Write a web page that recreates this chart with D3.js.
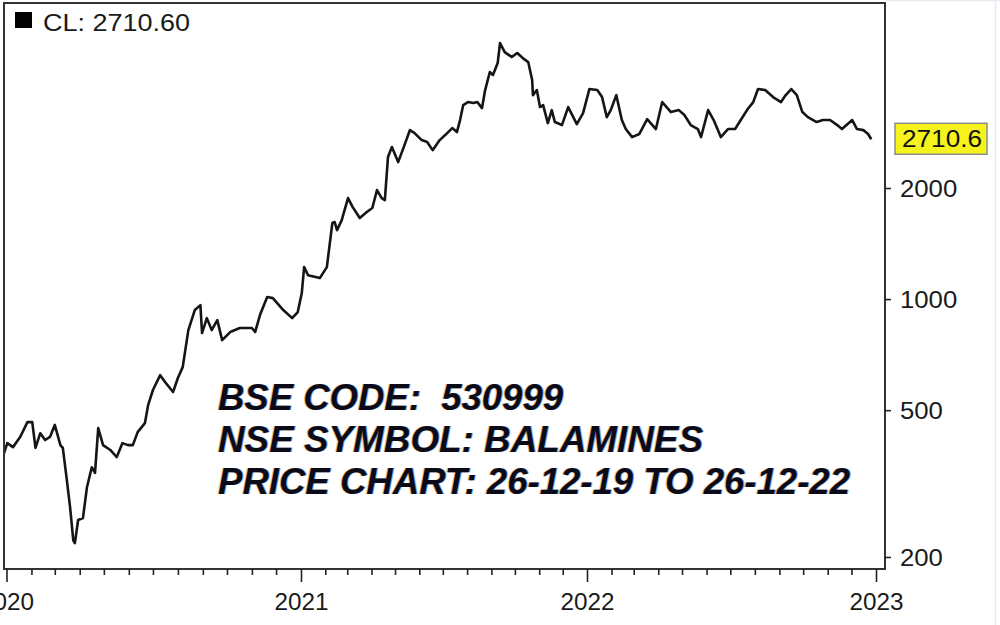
<!DOCTYPE html>
<html>
<head>
<meta charset="utf-8">
<script src="https://cdn.jsdelivr.net/npm/d3@7"></script>
<style>
  html, body { margin: 0; padding: 0; background: #ffffff; }
  svg { display: block; }
  text { font-family: "Liberation Sans", Arial, sans-serif; }
  .info { white-space: pre; }
</style>
</head>
<body>
<svg id="chart" width="1000" height="625"></svg>
<script>
// ---- data ----
const dates = [
 "2019-360","2020-002","2020-009","2020-018","2020-027","2020-033","2020-037","2020-043","2020-049","2020-055",
 "2020-061","2020-068","2020-071","2020-076","2020-080","2020-084","2020-086","2020-090","2020-096","2020-101",
 "2020-107","2020-111","2020-115","2020-121","2020-130","2020-138","2020-145","2020-152","2020-158","2020-164",
 "2020-173","2020-177","2020-183","2020-192","2020-198","2020-208","2020-214","2020-220","2020-227","2020-235",
 "2020-242","2020-244","2020-250","2020-256","2020-263","2020-269","2020-279","2020-291","2020-306","2020-310",
 "2020-316","2020-325","2020-332","2020-345","2020-356","2020-363",
 "2021-002","2021-005","2021-010","2021-025","2021-034","2021-041","2021-044","2021-047","2021-053","2021-061",
 "2021-067","2021-076","2021-085","2021-092","2021-098","2021-104","2021-108","2021-112","2021-117","2021-125",
 "2021-134","2021-140","2021-146","2021-155","2021-162","2021-169","2021-178","2021-185","2021-194","2021-200",
 "2021-204","2021-208","2021-214","2021-221","2021-226","2021-232","2021-236","2021-242","2021-246","2021-252",
 "2021-255","2021-261","2021-270","2021-277","2021-284","2021-291","2021-296","2021-297","2021-302","2021-306",
 "2021-310","2021-316","2021-321","2021-325","2021-334","2021-342","2021-353","2021-361",
 "2022-004","2022-014","2022-020","2022-026","2022-031","2022-038","2022-045","2022-050","2022-058","2022-067",
 "2022-077","2022-088","2022-096","2022-107","2022-117","2022-124","2022-132","2022-141","2022-145","2022-154",
 "2022-161","2022-170","2022-179","2022-188","2022-196","2022-204","2022-211","2022-217","2022-226","2022-236",
 "2022-246","2022-252","2022-259","2022-266","2022-273","2022-280","2022-291","2022-299","2022-308","2022-317",
 "2022-323","2022-336","2022-342","2022-350","2022-356","2022-360"
];
const closes = [
 366,407,397,423,464,464,395,433,415,423,
 456,402,395,323,273,222,218,252,255,309,
 350,338,447,402,390,373,407,402,402,436,
 461,516,567,622,596,560,611,654,824,934,
 963,809,888,824,877,774,814,835,835,814,
 905,1013,1006,934,888,922,
 1038,1221,1161,1140,1221,1607,1617,1538,1637,1878,
 1775,1658,1721,1765,1974,1878,1855,2426,2582,2351,
 2647,2871,2818,2697,2664,2533,2697,2783,2907,2835,
 3056,3356,3419,3398,3419,3293,3685,4124,4046,4361,
 4941,4671,4528,4642,4499,4388,3923,3571,3685,3314,
 3356,2999,3250,3018,2962,3314,2980,3192,
 3708,3685,3527,3113,3252,3571,3056,2889,2748,2801,
 3075,2889,3419,3212,3252,3153,2962,2889,2748,3252,
 3056,2748,2889,2889,3075,3273,3419,3708,3685,3527,
 3419,3571,3708,3571,3212,3113,3018,3056,3056,2962,
 2889,3056,2889,2870,2801,2710.6
];
const yTickValues = [200, 500, 1000, 2000];
const yearLabels = ["2020", "2021", "2022", "2023"];
const legendLabel = "CL: 2710.60";
const lastLabel = "2710.6";
const infoLines = ["BSE CODE:  530999", "NSE SYMBOL: BALAMINES", "PRICE CHART: 26-12-19 TO 26-12-22"];

// ---- setup ----
const parse = d3.timeParse("%Y-%j");
const data = dates.map((d, i) => ({ date: parse(d), close: closes[i] }));
const svg = d3.select("#chart");

const frame = { left: 4, top: 3, right: 885, bottom: 569 };
const yearDates = yearLabels.map(y => new Date(+y, 0, 1));

const x = d3.scaleTime()
  .domain(yearDates)
  .range([6.5, 301, 587, 876]);
const y = d3.scaleLog()
  .domain([200, 2000])
  .range([557, 188]);

// faint outer edges
svg.append("line").attr("x1", 995.5).attr("x2", 995.5).attr("y1", 0).attr("y2", 625)
  .attr("stroke", "#e4ebf3").attr("stroke-width", 1.5);
svg.append("line").attr("x1", frame.right).attr("x2", 1000).attr("y1", 0.5).attr("y2", 0.5)
  .attr("stroke", "#e4ebf3").attr("stroke-width", 1.5);

// clip
svg.append("defs").append("clipPath").attr("id", "plotclip")
  .append("rect")
  .attr("x", frame.left).attr("y", frame.top)
  .attr("width", frame.right - frame.left).attr("height", frame.bottom - frame.top);

// info text (with slight colour fringe)
const info = svg.append("g");
const infoBase = [410, 452, 494];
const infoLen = [345, 485, 632];
[["#e0902a", -1.0, 0.55], ["#2a6fd0", 1.0, 0.55], ["#0b0b18", 0, 1]].forEach(([col, dx, op]) => {
  info.selectAll(null).data(infoLines).join("text")
    .attr("class", "info")
    .attr("xml:space", "preserve")
    .attr("x", 218 + dx).attr("y", (d, i) => infoBase[i])
    .attr("font-size", 36).attr("font-weight", "bold").attr("font-style", "italic")
    .attr("textLength", (d, i) => infoLen[i]).attr("lengthAdjust", "spacingAndGlyphs")
    .attr("fill", col).attr("opacity", op)
    .text(d => d);
});

// price line
const line = d3.line().x(d => x(d.date)).y(d => y(d.close));
svg.append("path")
  .datum(data)
  .attr("clip-path", "url(#plotclip)")
  .attr("d", line)
  .attr("fill", "none")
  .attr("stroke", "#151515")
  .attr("stroke-width", 2.6)
  .attr("stroke-linejoin", "round");

// frame
svg.append("rect")
  .attr("x", frame.left).attr("y", frame.top)
  .attr("width", frame.right - frame.left).attr("height", frame.bottom - frame.top)
  .attr("fill", "none").attr("stroke", "#333").attr("stroke-width", 2);

// x axis: monthly minor ticks, yearly major ticks
const xAxis = d3.axisBottom(x)
  .ticks(d3.timeMonth.every(1))
  .tickSize(6)
  .tickFormat(d => d.getMonth() === 0 ? d3.timeFormat("%Y")(d) : "");
const gx = svg.append("g").attr("transform", `translate(0,${frame.bottom})`).call(xAxis);
gx.select(".domain").remove();
gx.selectAll(".tick line")
  .attr("stroke", "#222").attr("stroke-width", 1.6)
  .attr("y2", d => d.getMonth() === 0 ? 13 : 6);
gx.selectAll(".tick text")
  .attr("y", 0).attr("dy", 0)
  .attr("transform", "translate(0,41)")
  .attr("font-size", 23).attr("fill", "#1a1a1a")
  .attr("font-family", "'Liberation Sans', Arial, sans-serif")
  .attr("textLength", d => d.getMonth() === 0 ? 54 : null)
  .attr("lengthAdjust", "spacingAndGlyphs");

// y axis on the right
const yAxis = d3.axisRight(y).tickValues(yTickValues).tickSize(6).tickPadding(9).tickFormat(d3.format("d"));
const gy = svg.append("g").attr("transform", `translate(${frame.right},0)`).call(yAxis);
gy.select(".domain").remove();
gy.selectAll(".tick line").attr("stroke", "#222").attr("stroke-width", 1.6);
gy.selectAll(".tick text")
  .attr("dy", "0.35em")
  .attr("font-size", 23).attr("fill", "#1a1a1a")
  .attr("font-family", "'Liberation Sans', Arial, sans-serif")
  .attr("textLength", d => String(d).length * 14.3)
  .attr("lengthAdjust", "spacingAndGlyphs");

// last price label
const lastY = y(closes[closes.length - 1]);
svg.append("rect")
  .attr("x", frame.right + 10).attr("y", lastY - 16)
  .attr("width", 92).attr("height", 31)
  .attr("fill", "#f6f21c").attr("stroke", "#8c8c8c").attr("stroke-width", 1.5);
svg.append("text")
  .attr("x", frame.right + 17).attr("y", lastY + 8)
  .attr("font-size", 23).attr("fill", "#111")
  .attr("textLength", 80).attr("lengthAdjust", "spacingAndGlyphs")
  .text(lastLabel);

// legend
svg.append("rect").attr("x", 15).attr("y", 12).attr("width", 17).attr("height", 16).attr("fill", "#000");
svg.append("text")
  .attr("x", 43).attr("y", 31)
  .attr("font-size", 23).attr("fill", "#1a1a1a")
  .attr("textLength", 147).attr("lengthAdjust", "spacingAndGlyphs")
  .text(legendLabel);
</script>
</body>
</html>
